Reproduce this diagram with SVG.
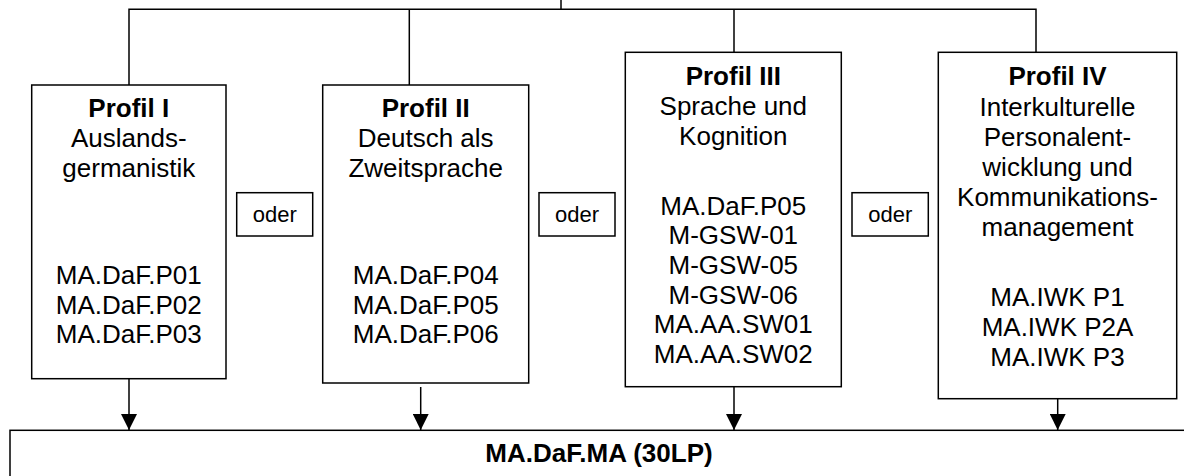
<svg xmlns="http://www.w3.org/2000/svg" width="1184" height="476" viewBox="0 0 1184 476">
<style>
.box{fill:#fff;stroke:#000;stroke-width:1.5}
.t{font-family:"Liberation Sans",Arial,sans-serif;font-size:26px;fill:#000;text-anchor:middle}
.b{font-weight:bold}
.o{font-size:22px}
.ln{fill:none;stroke:#000;stroke-width:1.5}
</style>
<defs>
<marker id="ah" markerUnits="userSpaceOnUse" markerWidth="16" markerHeight="16" refX="15" refY="7.5" orient="auto" viewBox="0 0 15 15">
<path d="M0,0 L15,7.5 L0,15 Z" fill="#000"/>
</marker>
</defs>
<rect width="1184" height="476" fill="#fff"/>
<g id="connectors">
<polyline class="ln" points="561,0 561,9.3"/>
<polyline class="ln" points="129,85 129,9.3 1036,9.3 1036,52.3"/>
<polyline class="ln" points="409.3,9.3 409.3,85"/>
<polyline class="ln" points="734,9.3 734,52.3"/>
<line class="ln" x1="129" y1="378.7" x2="129" y2="430" stroke-width="2" marker-end="url(#ah)"/>
<line class="ln" x1="420.7" y1="387" x2="420.7" y2="430" stroke-width="1.2" marker-end="url(#ah)"/>
<line class="ln" x1="734" y1="386.7" x2="734" y2="430" marker-end="url(#ah)"/>
<line class="ln" x1="1057.7" y1="398.7" x2="1057.7" y2="430" marker-end="url(#ah)"/>
</g>
<g id="profil1">
<rect class="box" x="31.7" y="85" width="194.3" height="293.7"/>
<text class="t b" x="128.8" y="116.7">Profil I</text>
<text class="t" x="128.8" y="147">Auslands-</text>
<text class="t" x="128.8" y="177">germanistik</text>
<text class="t" x="128.8" y="284">MA.DaF.P01</text>
<text class="t" x="128.8" y="313.5">MA.DaF.P02</text>
<text class="t" x="128.8" y="343">MA.DaF.P03</text>
</g>
<g id="oder1">
<rect class="box" x="236.7" y="192.7" width="76" height="43.3"/>
<text class="t o" x="274.7" y="221.7">oder</text>
</g>
<g id="profil2">
<rect class="box" x="322.7" y="85" width="206" height="298"/>
<text class="t b" x="425.7" y="116.7">Profil II</text>
<text class="t" x="425.7" y="147">Deutsch als</text>
<text class="t" x="425.7" y="177">Zweitsprache</text>
<text class="t" x="425.7" y="284">MA.DaF.P04</text>
<text class="t" x="425.7" y="313.5">MA.DaF.P05</text>
<text class="t" x="425.7" y="343">MA.DaF.P06</text>
</g>
<g id="oder2">
<rect class="box" x="539" y="192.7" width="76" height="43.3"/>
<text class="t o" x="577" y="221.7">oder</text>
</g>
<g id="profil3">
<rect class="box" x="625.3" y="52.3" width="216" height="334.4"/>
<text class="t b" x="733.3" y="84.7">Profil III</text>
<text class="t" x="733.3" y="114.7">Sprache und</text>
<text class="t" x="733.3" y="144.7">Kognition</text>
<text class="t" x="733.3" y="214.7">MA.DaF.P05</text>
<text class="t" x="733.3" y="244.3">M-GSW-01</text>
<text class="t" x="733.3" y="273.9">M-GSW-05</text>
<text class="t" x="733.3" y="303.5">M-GSW-06</text>
<text class="t" x="733.3" y="333.1">MA.AA.SW01</text>
<text class="t" x="733.3" y="362.7">MA.AA.SW02</text>
</g>
<g id="oder3">
<rect class="box" x="852" y="192.7" width="76.3" height="43.3"/>
<text class="t o" x="890.2" y="221.7">oder</text>
</g>
<g id="profil4">
<rect class="box" x="938.3" y="52.3" width="238.4" height="346.4"/>
<text class="t b" x="1057.5" y="84.7">Profil IV</text>
<text class="t" x="1057.5" y="115.5">Interkulturelle</text>
<text class="t" x="1057.5" y="145.5">Personalent-</text>
<text class="t" x="1057.5" y="175.5">wicklung und</text>
<text class="t" x="1057.5" y="205.5">Kommunikations-</text>
<text class="t" x="1057.5" y="235.5">management</text>
<text class="t" x="1057.5" y="305.5">MA.IWK P1</text>
<text class="t" x="1057.5" y="335.5">MA.IWK P2A</text>
<text class="t" x="1057.5" y="365.5">MA.IWK P3</text>
</g>
<g id="master">
<rect class="box" x="10" y="430.3" width="1180" height="60"/>
<text class="t b" x="599" y="461.7">MA.DaF.MA (30LP)</text>
</g>
</svg>
